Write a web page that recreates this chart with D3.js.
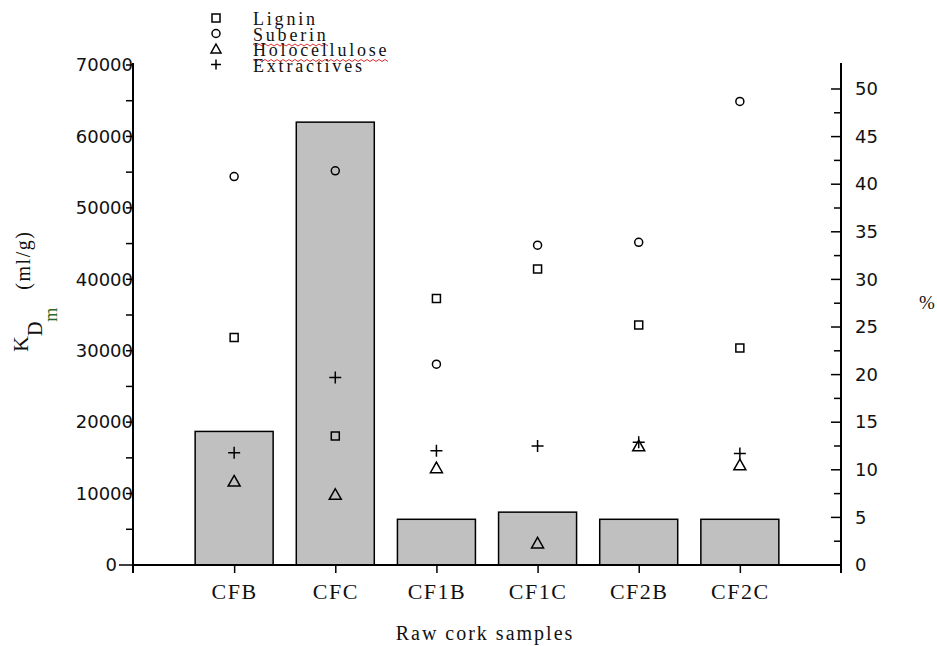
<!DOCTYPE html>
<html>
<head>
<meta charset="utf-8">
<script src="https://cdn.jsdelivr.net/npm/d3@7"></script>
<style>
  body { margin: 0; background: #fff; }
  svg { display: block; }
  .serif { font-family: "Liberation Serif", "Times New Roman", serif; }
  .num { font-family: "DejaVu Sans", Tahoma, sans-serif; }
</style>
</head>
<body>
<div id="chart"></div>
<script>
// samples on the x axis
var samples = ['CFB', 'CFC', 'CF1B', 'CF1C', 'CF2B', 'CF2C']

// bars, left axis KDm (ml/g)
var kdm = [18700, 62000, 6400, 7400, 6400, 6400]

// markers, right axis (%)
var lignin = [23.9, 13.55, 28.0, 31.1, 25.2, 22.8]
var suberin = [40.8, 41.4, 21.1, 33.6, 33.9, 48.7]
var holocellulose = [8.8, 7.4, 10.2, 2.3, 12.5, 10.5]
var extractives = [11.8, 19.7, 12.0, 12.5, 12.9, 11.7]

var leftTicks = [0, 10000, 20000, 30000, 40000, 50000, 60000, 70000]
var rightTicks = [0, 5, 10, 15, 20, 25, 30, 35, 40, 45, 50]

var width = 937
var height = 646
var x0 = 133
var x1 = 841
var yBase = 565
var yTop = 65

var svg = d3.select('#chart')
    .append('svg')
    .attr('width', width)
    .attr('height', height)

var xScale = d3.scalePoint()
    .domain(samples)
    .range([x0, x1])
    .padding(1)

var yLeft = d3.scaleLinear()
    .domain([0, 70000])
    .range([yBase, yTop])

var yRight = d3.scaleLinear()
    .domain([0, 50])
    .range([yBase, 89])

var barW = 78

// bars
svg.selectAll('rect.bar')
    .data(samples)
    .enter()
    .append('rect')
    .attr('class', 'bar')
    .attr('x', (d) => xScale(d) - barW / 2)
    .attr('y', (d, i) => yLeft(kdm[i]))
    .attr('width', barW)
    .attr('height', (d, i) => yBase - yLeft(kdm[i]))
    .attr('fill', '#c0c0c0')
    .attr('stroke', '#000')
    .attr('stroke-width', 1.5)

// marker shapes (drawn for stroke)
var squareType = { draw: function (c, s) { var r = s / 2; c.rect(-r, -r, s, s) } }
var circleType = { draw: function (c, s) { var r = s / 2; c.moveTo(r, 0); c.arc(0, 0, r, 0, 2 * Math.PI) } }
var triType = { draw: function (c, s) { var h = s * 0.8; c.moveTo(0, -h / 2 - 1); c.lineTo(s / 2, h / 2); c.lineTo(-s / 2, h / 2); c.closePath() } }
var plusType = { draw: function (c, s) { var r = s / 2; c.moveTo(-r, 0); c.lineTo(r, 0); c.moveTo(0, -r); c.lineTo(0, r) } }

var series = [
    { name: 'Lignin', values: lignin, type: squareType, size: 8 },
    { name: 'Suberin', values: suberin, type: circleType, size: 8 },
    { name: 'Holocellulose', values: holocellulose, type: triType, size: 12 },
    { name: 'Extractives', values: extractives, type: plusType, size: 12 }
]

series.forEach(function (s) {
    svg.selectAll(null)
        .data(samples)
        .enter()
        .append('path')
        .attr('d', d3.symbol().type(s.type).size(s.size))
        .attr('transform', (d, i) => 'translate(' + xScale(d) + ',' + yRight(s.values[i]) + ')')
        .attr('fill', 'none')
        .attr('stroke', '#000')
        .attr('stroke-width', 1.5)
})

// left axis
var leftAxis = d3.axisLeft(yLeft).tickValues(leftTicks).tickSize(0).tickPadding(0).tickFormat(d3.format('d'))
var gl = svg.append('g')
    .attr('transform', 'translate(' + x0 + ',0)')
    .call(leftAxis)
gl.select('.domain').remove()
gl.selectAll('text').attr('class', 'num').attr('font-size', 18).attr('fill', '#111')
gl.selectAll('text').filter((d) => d === 0).attr('dx', -16)
svg.append('g').selectAll('line')
    .data(d3.range(0, 70001, 5000))
    .enter()
    .append('line')
    .attr('x1', (d) => d === 0 ? x0 - 14 : x0 - 7).attr('x2', x0)
    .attr('y1', (d) => yLeft(d)).attr('y2', (d) => yLeft(d))
    .attr('stroke', '#000').attr('stroke-width', 1.5)
svg.append('line')
    .attr('x1', x0).attr('x2', x0)
    .attr('y1', yTop - 2).attr('y2', yBase + 8)
    .attr('stroke', '#000').attr('stroke-width', 2)

// right axis
var rightAxis = d3.axisRight(yRight).tickValues(rightTicks).tickSize(0).tickPadding(14)
var gr = svg.append('g')
    .attr('transform', 'translate(' + x1 + ',0)')
    .call(rightAxis)
gr.select('.domain').remove()
gr.selectAll('text').attr('class', 'num').attr('font-size', 18).attr('fill', '#111')
svg.append('g').selectAll('line')
    .data(d3.range(0, 52.5, 2.5))
    .enter()
    .append('line')
    .attr('x1', (d) => d % 5 === 0 ? x1 - 10 : x1 - 7).attr('x2', x1)
    .attr('y1', (d) => yRight(d)).attr('y2', (d) => yRight(d))
    .attr('stroke', '#000').attr('stroke-width', 1.5)
svg.append('line')
    .attr('x1', x1).attr('x2', x1)
    .attr('y1', yTop - 2).attr('y2', yBase + 8)
    .attr('stroke', '#000').attr('stroke-width', 2)

// x axis
var xAxis = d3.axisBottom(xScale).tickSize(8).tickPadding(10)
var gx = svg.append('g')
    .attr('transform', 'translate(0,' + yBase + ')')
    .call(xAxis)
gx.select('.domain').remove()
gx.selectAll('line').attr('stroke', '#000').attr('stroke-width', 1.5)
gx.selectAll('text').attr('class', 'serif').attr('font-size', 22).attr('fill', '#111').attr('letter-spacing', 1.5)
svg.append('line')
    .attr('x1', x0).attr('x2', x1)
    .attr('y1', yBase).attr('y2', yBase)
    .attr('stroke', '#000').attr('stroke-width', 2)

// axis titles
svg.append('text')
    .attr('class', 'serif')
    .attr('x', 485)
    .attr('y', 640)
    .attr('text-anchor', 'middle')
    .attr('font-size', 20)
    .attr('letter-spacing', 2)
    .attr('fill', '#111')
    .text('Raw cork samples')

svg.append('text')
    .attr('class', 'serif')
    .attr('x', 927)
    .attr('y', 309)
    .attr('text-anchor', 'middle')
    .attr('font-size', 19)
    .attr('fill', '#111')
    .text('%')

var yTitle = svg.append('text')
    .attr('class', 'serif')
    .attr('transform', 'translate(28,352)rotate(-90)')
    .attr('font-size', 22)
    .attr('fill', '#111')
yTitle.append('tspan').text('K')
yTitle.append('tspan').attr('dy', 14).attr('font-size', 20).text('D')
yTitle.append('tspan').attr('dy', 15).attr('font-size', 18).attr('fill', '#2a6a2a').text('m')
yTitle.append('tspan').attr('dy', -27).attr('dx', 18).attr('font-size', 20).attr('letter-spacing', 1.5).text('(ml/g)')

// legend
var legend = svg.append('g')
    .attr('transform', 'translate(216,18)')

series.forEach(function (s, i) {
    var row = legend.append('g').attr('transform', 'translate(0,' + i * 15.5 + ')')
    row.append('path')
        .attr('d', d3.symbol().type(s.type).size(s.size === 12 ? 10 : 8)())
        .attr('fill', 'none')
        .attr('stroke', '#000')
        .attr('stroke-width', 1.5)
    var t = row.append('text')
        .attr('class', 'serif')
        .attr('x', 37)
        .attr('y', 7)
        .attr('font-size', 18)
        .attr('letter-spacing', 2.8)
        .attr('fill', '#111')
        .text(s.name)
    // spell-check squiggle
    if (s.name === 'Suberin' || s.name === 'Holocellulose') {
        var w = t.node().getComputedTextLength()
        var pts = d3.range(0, w + 1, 3).map((x, j) => [37 + x, 11 + (j % 2 ? 1.5 : -0.5)])
        row.append('path')
            .attr('d', d3.line()(pts))
            .attr('fill', 'none')
            .attr('stroke', '#e03030')
            .attr('stroke-width', 1)
    }
})
</script>
</body>
</html>
